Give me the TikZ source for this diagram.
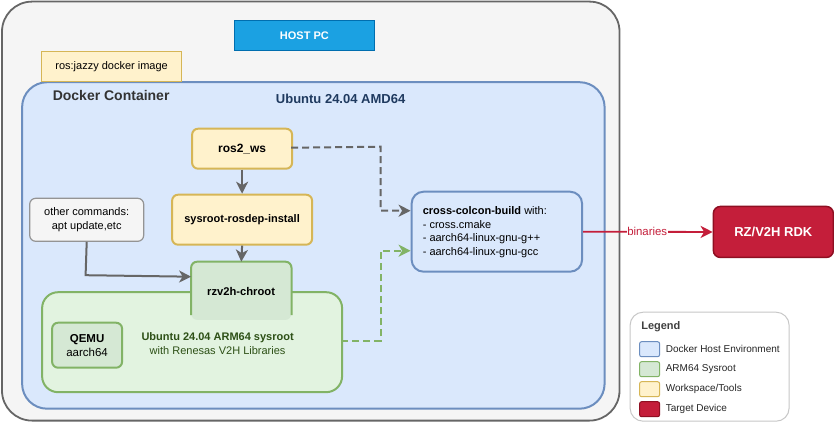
\documentclass[tikz,border=0pt]{standalone}
\usepackage{fontspec}
\setmainfont{Liberation Sans}
\usetikzlibrary{arrows.meta,calc}
\definecolor{bluefill}{HTML}{DAE8FC}\definecolor{blueline}{HTML}{6C8EBF}
\definecolor{greenfill}{HTML}{D5E8D4}\definecolor{greenline}{HTML}{82B366}
\definecolor{lightgreen}{HTML}{E2F3E0}
\definecolor{yelfill}{HTML}{FFF2CC}\definecolor{yelline}{HTML}{D6B656}
\definecolor{redfill}{HTML}{C41E3A}\definecolor{redline}{HTML}{8F0F22}
\definecolor{hostfill}{HTML}{1BA1E2}\definecolor{hostline}{HTML}{006EAF}
\definecolor{greyfill}{HTML}{F5F5F5}\definecolor{greyline}{HTML}{666666}
\definecolor{darkgreen}{HTML}{2D5016}\definecolor{navy}{HTML}{1F3A5F}
\tikzset{
  x=1pt,y=-1pt,
  box/.style={draw,line width=#1,rounded corners=6pt,minimum height=0pt,inner sep=0pt,align=center},
  box/.default=2pt,
  yel/.style={box,fill=yelfill,draw=yelline,font=\fontsize{11.2}{13.8}\selectfont\bfseries},
  flow/.style={draw=greyline,line width=2pt,-{Stealth[length=12pt,width=12pt,inset=3.5pt]}},
  dashgrey/.style={flow,dash pattern=on 7pt off 4pt},
  dashgreen/.style={flow,draw=greenline,dash pattern=on 7pt off 4pt},
  legtxt/.style={anchor=west,font=\fontsize{10}{11}\selectfont,inner sep=0pt,text=black!85},
  swatch/.style={draw,line width=1pt,rounded corners=2pt,minimum width=20pt,minimum height=15pt,inner sep=0pt},
}
\begin{document}
\begin{tikzpicture}
\useasboundingbox (0.4,0.3) rectangle (834.4,422.3);
\fill[white] (0.4,0.3) rectangle (834.4,422.3);
% Frames
\node[draw=greyline,fill=greyfill,line width=1.8pt,rounded corners=30pt,anchor=north west,minimum width=617.5pt,minimum height=419pt,inner sep=0pt] (host) at (1.5,1) {};
\node[draw=hostline,fill=hostfill,line width=1pt,anchor=north west,minimum width=140pt,minimum height=30pt,inner sep=0pt,text=white,font=\fontsize{11}{13}\selectfont\bfseries] (hostpc) at (234.3,20.5) {HOST PC};
\node[draw=blueline,fill=bluefill,line width=2pt,rounded corners=25pt,anchor=north west,minimum width=582.5pt,minimum height=326.5pt,inner sep=0pt] (docker) at (21.5,81.5) {};
\node[draw=yelline,fill=yelfill,line width=1pt,anchor=north west,minimum width=140pt,minimum height=30pt,inner sep=0pt,font=\fontsize{11}{13}\selectfont] (image) at (41.5,51.5) {ros:jazzy docker image};
\node[anchor=base west,inner sep=0pt,text=black!80,font=\fontsize{14}{16}\selectfont\bfseries] (dockerlabel) at (53,101) {Docker Container};
\node[anchor=base,inner sep=0pt,text=navy,font=\fontsize{13}{15}\selectfont\bfseries] (ubuntu) at (341,104) {Ubuntu 24.04 AMD64};
% Sysroot
\node[draw=greenline,fill=lightgreen,line width=2pt,rounded corners=16pt,anchor=north west,minimum width=300pt,minimum height=100pt,inner sep=0pt] (arm) at (41.5,291.5) {};
\node[anchor=center,inner sep=0pt,align=center,text=darkgreen,font=\fontsize{11}{13.8}\selectfont] (armlabel) at (218,344) {\textbf{Ubuntu 24.04 ARM64 sysroot}\\with Renesas V2H Libraries};
\node[box,fill=greenfill,draw=greenline,anchor=north west,minimum width=70pt,minimum height=45pt,font=\fontsize{11.5}{13.8}\selectfont] (qemu) at (51.5,322) {\textbf{QEMU}\\aarch64};
% chroot: open at the bottom
\node[anchor=north west,minimum width=100pt,minimum height=58pt,inner sep=0pt,fill=greenfill,rounded corners=6pt] (chroot) at (191.5,262) {};
\draw[greenline,line width=2pt,rounded corners=6pt] (chroot.south west) ++(0,-5) -- (chroot.north west) -- (chroot.north east) -- ($(chroot.south east)+(0,-5)$);
\node[inner sep=0pt,font=\fontsize{11.2}{13.8}\selectfont\bfseries] (chrootlabel) at (241.5,292) {rzv2h-chroot};
% Tools
\node[yel,anchor=north west,minimum width=100pt,minimum height=40pt,font=\fontsize{12}{14}\selectfont\bfseries] (ws) at (191.5,128) {ros2\_ws};
\node[yel,anchor=north west,minimum width=140pt,minimum height=50pt,font=\fontsize{11}{13.8}\selectfont\bfseries] (rosdep) at (171.5,194) {sysroot-rosdep-install};
\node[box=1.2pt,fill=greyfill,draw=greyline!70,anchor=north west,minimum width=114pt,minimum height=43pt,font=\fontsize{11}{13.8}\selectfont,text depth=3pt] (other) at (29.5,198) {other commands:\\apt update,etc};
\node[draw=blueline,fill=bluefill,line width=2pt,rounded corners=12pt,anchor=north west,minimum width=170.5pt,minimum height=80pt,inner sep=0pt] (cross) at (411,191) {};
\node[anchor=north west,inner sep=0pt,align=left,font=\fontsize{11}{13.4}\selectfont] (crosstext) at (423,206.5) {\textbf{cross-colcon-build} with:\\[.35pt]- cross.cmake\\[.35pt]- aarch64-linux-gnu-g++\\[.35pt]- aarch64-linux-gnu-gcc};
\node[draw=redline,fill=redfill,line width=1.5pt,rounded corners=7pt,anchor=north west,minimum width=120pt,minimum height=51pt,inner sep=0pt,text=white,font=\fontsize{13}{15}\selectfont\bfseries] (rdk) at (713,206) {RZ/V2H RDK};
% Connectors
\coordinate (wsout) at (291.5,148);
\coordinate (crossin1) at (411,211);
\coordinate (crossin2) at (411,251);
\coordinate (armout) at (341.5,341);
\coordinate (chrootin) at (191.5,277);
\draw[flow] (ws.south) -- (rosdep.north);
\draw[flow] (rosdep.south) -- (chroot.north);
\draw[flow] (other.south) -- (86,275.5) -- (chrootin);
\draw[dashgrey] (wsout) -- (381,147) -- (381,211) -- (crossin1);
\draw[dashgreen] (armout) -- (381,341) -- (381,251) -- (crossin2);
\draw[draw=redfill,line width=1.8pt,-{Stealth[length=12pt,width=12pt,inset=3.5pt]}] (cross.east) -- node[pos=.495,fill=white,inner sep=.4pt,text=redfill,font=\fontsize{11.4}{13}\selectfont] (binaries) {binaries} (rdk.west);
% Legend
\node[draw=black!22,fill=white,line width=1pt,rounded corners=13pt,anchor=north west,minimum width=159pt,minimum height=109pt,inner sep=0pt] (legend) at (630,312) {};
\node[anchor=base west,inner sep=0pt,text=black!75,font=\fontsize{11}{13}\selectfont\bfseries] (legendtitle) at (641.5,330) {Legend};
\node[swatch,anchor=north west,fill=bluefill,draw=blueline] (s1) at (639.5,341.5) {};
\node[swatch,anchor=north west,fill=greenfill,draw=greenline] (s2) at (639.5,361.5) {};
\node[swatch,anchor=north west,fill=yelfill,draw=yelline] (s3) at (639.5,381.5) {};
\node[swatch,anchor=north west,fill=redfill,draw=redline] (s4) at (639.5,401.5) {};
\node[legtxt] (l1) at (666,349) {Docker Host Environment};
\node[legtxt] (l2) at (666,369) {ARM64 Sysroot};
\node[legtxt] (l3) at (666,389) {Workspace/Tools};
\node[legtxt] (l4) at (666,409) {Target Device};
\end{tikzpicture}
\end{document}
